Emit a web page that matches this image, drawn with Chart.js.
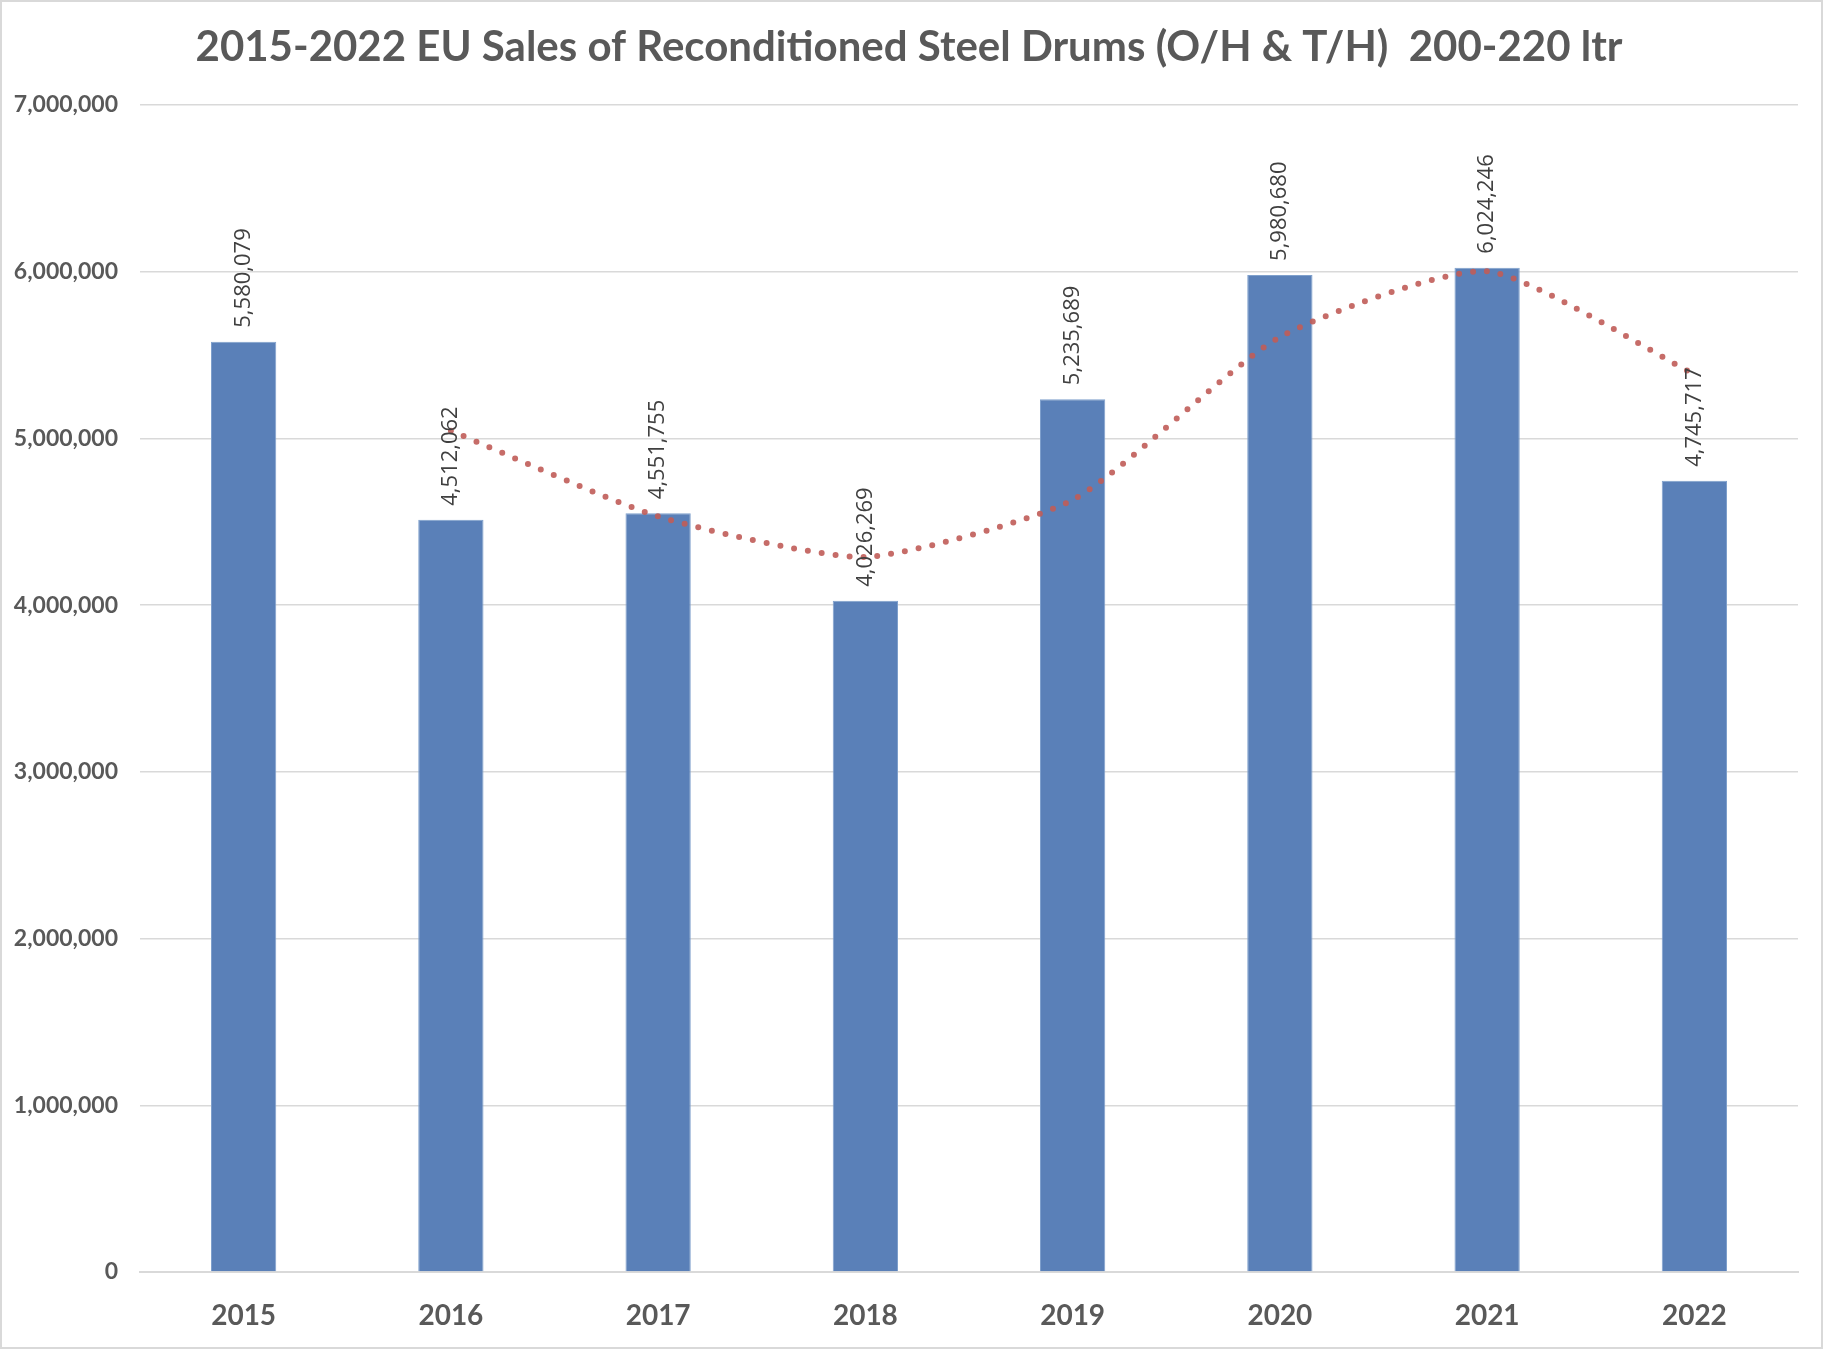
<!DOCTYPE html>
<html>
<head>
<meta charset="utf-8">
<script src="https://cdn.jsdelivr.net/npm/chart.js@4/dist/chart.umd.min.js"></script>
<style>
  html, body { margin: 0; padding: 0; background: #fff; }
  #wrap { position: relative; width: 1823px; height: 1349px; box-sizing: border-box; border: 2px solid #d9d9d9; }
  canvas { display: block; }
</style>
</head>
<body>
<div id="wrap"><canvas id="myChart" width="1819" height="1345"></canvas></div>
<script>
const years = ['2015', '2016', '2017', '2018', '2019', '2020', '2021', '2022'];
const sales = [5580079, 4512062, 4551755, 4026269, 5235689, 5980680, 6024246, 4745717];
// dotted trend line (2-period moving average as drawn in the picture)
const trend = [null, 5046000, 4532000, 4289000, 4631000, 5608000, 6002000, 5385000];
const yTicks = [0, 1000000, 2000000, 3000000, 4000000, 5000000, 6000000, 7000000];
const chartTitle = '2015-2022 EU Sales of Reconditioned Steel Drums (O/H & T/H)  200-220 ltr';

const fmt = v => v.toLocaleString('en-US');

// value labels, rotated, sitting on top of each bar
const barLabels = {
  id: 'barLabels',
  afterDatasetsDraw(chart) {
    const ctx = chart.ctx;
    const meta = chart.getDatasetMeta(1);
    ctx.save();
    ctx.font = '22px "Open Sans", sans-serif';
    ctx.fillStyle = '#404040';
    ctx.textAlign = 'left';
    ctx.textBaseline = 'middle';
    meta.data.forEach((bar, i) => {
      ctx.save();
      ctx.translate(bar.x, bar.y - 14);
      ctx.rotate(-Math.PI / 2);
      ctx.fillText(fmt(sales[i]), 0, 0);
      ctx.restore();
    });
    ctx.restore();
  }
};

// title drawn by hand so it can sit a little right of the canvas centre, like the original
const titlePlugin = {
  id: 'titlePlugin',
  afterDraw(chart) {
    const ctx = chart.ctx;
    ctx.save();
    ctx.font = 'bold 42px Lato, sans-serif';
    ctx.fillStyle = '#595959';
    ctx.textAlign = 'center';
    ctx.textBaseline = 'middle';
    ctx.fillText(chartTitle, 907, 45);
    ctx.restore();
  }
};

const ctx = document.getElementById('myChart').getContext('2d');
new Chart(ctx, {
  data: {
    labels: years,
    datasets: [{
      type: 'line',
      label: 'Trend',
      data: trend,
      borderColor: 'rgba(192, 92, 88, 0.9)',
      borderWidth: 6,
      borderDash: [0, 14],
      borderCapStyle: 'round',
      pointRadius: 0,
      tension: 0.2,
      fill: false,
      order: 0
    }, {
      type: 'bar',
      label: 'Sales',
      data: sales,
      backgroundColor: '#5a80b8',
      borderColor: '#7fa0cc',
      borderWidth: 1,
      barPercentage: 1,
      categoryPercentage: 0.315,
      order: 1
    }]
  },
  options: {
    responsive: false,
    animation: false,
    devicePixelRatio: 1,
    layout: { padding: { left: 0, right: 23, top: 103, bottom: 15 } },
    plugins: {
      legend: { display: false },
      tooltip: { enabled: false },
      title: { display: false }
    },
    scales: {
      x: {
        grid: { display: false, drawTicks: false },
        border: { color: '#d9d9d9', width: 2 },
        afterFit: axis => { axis.height = 60; },
        ticks: {
          color: '#595959',
          padding: 27,
          font: { family: 'Lato, sans-serif', size: 28, weight: 'bold' }
        }
      },
      y: {
        min: 0,
        max: 7000000,
        afterBuildTicks: axis => { axis.ticks = yTicks.map(v => ({ value: v })); },
        afterFit: axis => { axis.width = 138; },
        grid: { color: '#d9d9d9', lineWidth: 1.5, drawTicks: false },
        border: { display: false },
        ticks: {
          color: '#595959',
          padding: 22,
          font: { family: 'Lato, sans-serif', size: 23, weight: 'bold' },
          callback: v => fmt(v)
        }
      }
    }
  },
  plugins: [barLabels, titlePlugin]
});
</script>
</body>
</html>
